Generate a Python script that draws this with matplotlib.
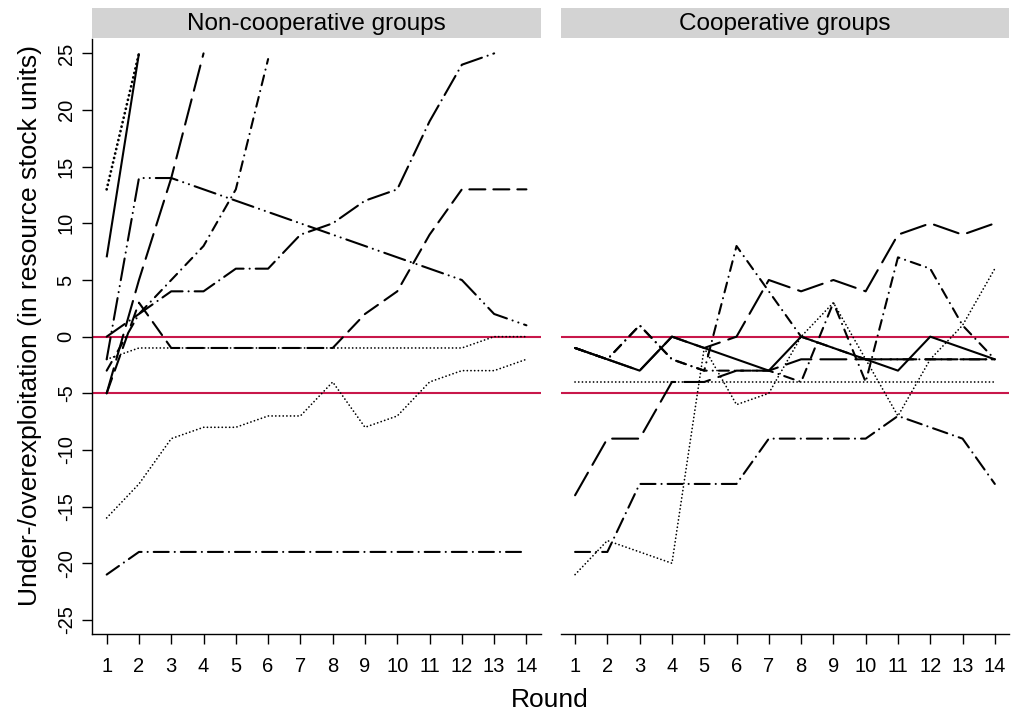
import matplotlib.pyplot as plt

plt.rcParams['font.family'] = ['Liberation Sans', 'DejaVu Sans']
plt.rcParams['lines.scale_dashes'] = False

rounds = list(range(1, 15))
panel_titles = ["Non-cooperative groups", "Cooperative groups"]
ytick_values = [-25, -20, -15, -10, -5, 0, 5, 10, 15, 20, 25]
reference_levels = [0, -5]

# non-cooperative groups (a series stops when the stock is used up)
nc_solid = [7, 25]
nc_dotted_heavy = [13, 25]
nc_longdash = [-5, 5, 14, 25]
nc_dotdash = [-3, 2, 5, 8, 13, 24.5]
nc_twodash = [-2, 14, 14, 13, 12, 11, 10, 9, 8, 7, 6, 5, 2, 1]
nc_longdashdot = [0, 2, 4, 4, 6, 6, 9, 10, 12, 13, 19, 24, 25]
nc_dashed = [-5, 3, -1, -1, -1, -1, -1, -1, 2, 4, 9, 13, 13, 13]
nc_dotted_a = [-2, -1, -1, -1, -1, -1, -1, -1, -1, -1, -1, -1, 0, 0]
nc_dotted_b = [-16, -13, -9, -8, -8, -7, -7, -4, -8, -7, -4, -3, -3, -2]
nc_dashdot = [-21, -19, -19, -19, -19, -19, -19, -19, -19, -19, -19, -19, -19, -19]

# cooperative groups
co_solid = [-1, -2, -3, 0, -1, -2, -3, 0, -1, -2, -3, 0, -1, -2]
co_longdash_a = [-14, -9, -9, -4, -4, -3, -3, -2, -2, -2, -2, -2, -2, -2]
co_longdash_b = [-1, -2, -3, 0, -1, 0, 5, 4, 5, 4, 9, 10, 9, 10]
co_dotted_a = [-21, -18, -19, -20, -1, -6, -5, 0, 3, -2, -7, -2, 1, 6]
co_dotted_b = [-4, -4, -4, -4, -4, -4, -4, -4, -4, -4, -4, -4, -4, -4]
co_dashdot = [-19, -19, -13, -13, -13, -13, -9, -9, -9, -9, -7, -8, -9, -13]
co_dotdash_a = [-1, -2, 1, -2, -3, 8, 4, 0, -1, -2, -2, -2, -2, -2]
co_dotdash_b = [-1, -2, 1, -2, -3, -3, -3, -4, 3, -4, 7, 6, 1, -2]


def px(seq):
    # dash patterns are written in pixels, matplotlib wants points
    return (0, tuple(v * 0.72 for v in seq))


STYLES = {
    'solid': dict(linestyle='-', linewidth=1.5),
    'dotted': dict(linestyle=px([0.1, 3.6]), linewidth=1.25),
    'dotted_heavy': dict(linestyle=px([0.1, 4.5]), linewidth=2.0),
    'dashed': dict(linestyle=px([16, 8]), linewidth=1.5),
    'longdash': dict(linestyle=px([26, 9]), linewidth=1.5),
    'dotdash': dict(linestyle=px([10, 6, 0.1, 6]), linewidth=1.5),
    'twodash': dict(linestyle=px([22, 6, 0.1, 6, 0.1, 6]), linewidth=1.5),
    'longdashdot': dict(linestyle=px([22, 6, 0.1, 6]), linewidth=1.5),
    'dashdot': dict(linestyle=px([15, 6, 0.1, 6]), linewidth=1.5),
}

panels = [
    [(nc_solid, 'solid'), (nc_dotted_heavy, 'dotted_heavy'), (nc_longdash, 'longdash'),
     (nc_dotdash, 'dotdash'), (nc_twodash, 'twodash'), (nc_longdashdot, 'longdashdot'),
     (nc_dashed, 'dashed'), (nc_dotted_a, 'dotted'), (nc_dotted_b, 'dotted'),
     (nc_dashdot, 'dashdot')],
    [(co_dotted_b, 'dotted'), (co_dotted_a, 'dotted'), (co_dashdot, 'dashdot'),
     (co_dotdash_b, 'dotdash'), (co_dotdash_a, 'dotdash'), (co_longdash_b, 'longdash'),
     (co_longdash_a, 'longdash'), (co_solid, 'solid')],
]

W, H = 1018, 713
fig = plt.figure(figsize=(W / 100, H / 100), dpi=100)

panel_left = [92.3, 560.7]
panel_width = 448.5
panel_top, panel_bottom = 39.0, 634.3
strip_top, strip_bottom = 7.5, 38.0

axes = []
for i, series in enumerate(panels):
    ax = fig.add_axes([panel_left[i] / W, 1 - panel_bottom / H,
                       panel_width / W, (panel_bottom - panel_top) / H])
    for lvl in reference_levels:
        ax.axhline(lvl, color='#c8174a', linewidth=1.5, zorder=1)
    for values, style in series:
        ax.plot(rounds[:len(values)], values, color='black',
                dash_capstyle='round', solid_capstyle='butt', zorder=2,
                **STYLES[style])
    ax.set_xlim(0.555, 14.445)
    ax.set_ylim(-26.27, 26.27)
    ax.set_xticks(rounds)
    ax.tick_params(axis='x', length=7, width=1, labelsize=14.5, pad=9)
    for side in ['top', 'right']:
        ax.spines[side].set_visible(False)
    ax.spines['bottom'].set_linewidth(1)
    if i == 0:
        ax.set_yticks(ytick_values)
        ax.set_yticklabels([str(v) for v in ytick_values], rotation=90, va='center')
        ax.tick_params(axis='y', length=7, width=1, labelsize=14.5, pad=5)
        ax.spines['left'].set_linewidth(1)
    else:
        ax.spines['left'].set_visible(False)
        ax.set_yticks([])
    axes.append(ax)

    strip = fig.add_axes([panel_left[i] / W, 1 - strip_bottom / H,
                          panel_width / W, (strip_bottom - strip_top) / H])
    strip.set_facecolor('#d3d3d3')
    strip.set_xticks([])
    strip.set_yticks([])
    for s in strip.spines.values():
        s.set_visible(False)
    strip.text(0.5, 0.47, panel_titles[i], ha='center', va='center', fontsize=17.5)

fig.text(550 / W, 1 - 700 / H, "Round", ha='center', va='center', fontsize=19)
fig.text(30 / W, 1 - 325 / H, "Under-/overexploitation (in resource stock units)",
         ha='center', va='center', rotation=90, fontsize=19)

fig.savefig("out.png", dpi=100)
